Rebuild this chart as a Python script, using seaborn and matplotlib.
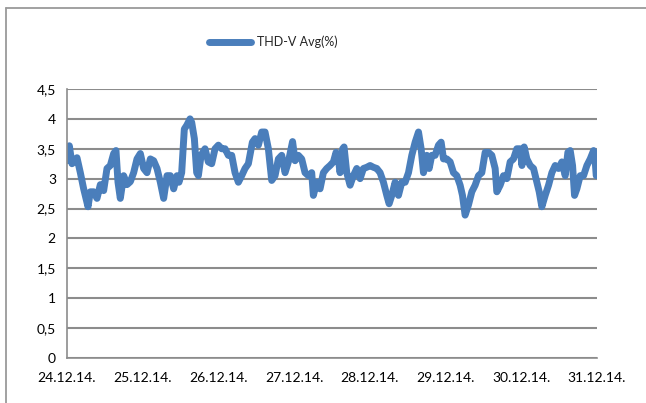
import numpy as np
import pandas as pd
import matplotlib
matplotlib.use("Agg")
import matplotlib.pyplot as plt
import matplotlib.dates as mdates
from matplotlib.lines import Line2D
from matplotlib.ticker import FuncFormatter
import seaborn as sns

# Hours elapsed since 24.12.2014 00:00
hours = [
    0.0, 0.74, 1.59, 2.64, 3.17, 4.23, 5.28, 6.66, 7.4, 8.45, 9.51, 10.57,
    11.62, 12.68, 13.74, 14.79, 15.53, 16.17, 16.9, 17.96, 19.02, 20.08,
    21.13, 22.19, 23.25, 24.3, 25.36, 26.42, 27.47, 28.53, 29.59, 30.64,
    31.7, 32.76, 33.81, 34.87, 35.5, 36.35, 37.19, 37.94, 39.0, 39.53,
    40.37, 41.11, 41.64, 42.5, 43.75, 44.8, 45.86, 46.92, 47.98, 49.03,
    50.09, 51.15, 52.21, 53.26, 54.32, 55.38, 56.43, 57.49, 58.76, 59.6,
    60.66, 61.72, 62.77, 63.83, 64.89, 65.95, 67.0, 68.06, 69.12, 70.17,
    71.5, 72.29, 73.33, 74.39, 75.45, 76.51, 77.56, 78.09, 79.15, 80.21,
    81.26, 82.32, 83.38, 84.44, 85.28, 86.02, 86.55, 87.39, 87.82, 88.67,
    89.73, 90.78, 91.84, 92.9, 93.96, 95.01, 96.07, 97.13, 98.19, 99.24,
    100.3, 101.36, 102.1, 102.95, 104.0, 105.06, 106.12, 107.18, 108.24,
    109.29, 110.35, 111.41, 112.25, 112.99, 114.05, 114.79, 115.62,
    116.68, 117.74, 118.59, 119.33, 120.38, 121.44, 122.5, 123.56, 124.61,
    125.35, 126.19, 127.25, 128.31, 129.36, 130.42, 131.48, 132.54,
    133.59, 134.65, 135.71, 136.24, 137.29, 138.35, 139.41, 140.47,
    141.52, 142.58, 143.64, 144.2, 144.9, 145.76, 146.82, 147.87, 148.93,
    149.67, 150.51, 151.57, 152.63, 153.69, 154.74, 155.8, 156.86, 157.92,
    158.76, 159.5, 160.24, 160.87, 161.61, 162.67, 163.73, 164.78, 165.84,
    166.9, 167.43, 167.75,
]

thd_v = [
    3.3, 3.55, 3.25, 3.3, 3.35, 3.1, 2.83, 2.53, 2.78, 2.78, 2.67, 2.9,
    2.8, 3.17, 3.22, 3.42, 3.47, 2.94, 2.67, 3.05, 2.9, 2.95,
    3.1, 3.33, 3.42, 3.17, 3.1, 3.33, 3.3, 3.17, 2.94, 2.67,
    3.05, 3.05, 2.83, 3.05, 2.94, 3.1, 3.83, 3.89, 4.0, 3.94,
    3.67, 3.1, 3.05, 3.39, 3.5, 3.28, 3.25, 3.5, 3.56, 3.5,
    3.5, 3.39, 3.39, 3.1, 2.94, 3.05, 3.17, 3.25, 3.61, 3.67,
    3.56, 3.78, 3.78, 3.5, 2.97, 3.05, 3.33, 3.39, 3.1, 3.28,
    3.62, 3.3, 3.39, 3.33, 3.1, 3.05, 3.1, 2.72, 2.94, 2.83,
    3.1, 3.17, 3.22, 3.28, 3.44, 3.33, 3.1, 3.5, 3.53, 3.1,
    2.89, 3.05, 3.17, 3.0, 3.17, 3.19, 3.22, 3.19, 3.17, 3.1,
    2.94, 2.72, 2.58, 2.72, 2.94, 2.72, 2.94, 2.94, 3.1,
    3.39, 3.61, 3.78, 3.5, 3.1, 3.39, 3.17, 3.39,
    3.39, 3.56, 3.61, 3.33, 3.33, 3.28, 3.1, 3.05, 2.89,
    2.72, 2.39, 2.56, 2.78, 2.89, 3.05, 3.1, 3.44,
    3.44, 3.39, 3.17, 2.78, 2.89, 3.05, 3.0, 3.28,
    3.33, 3.5, 3.5, 3.22, 3.53, 3.33, 3.22, 3.17, 2.94,
    2.78, 2.53, 2.72, 2.89, 3.1, 3.22, 3.17, 3.28, 3.05,
    3.44, 3.47, 3.22, 2.72, 2.83, 3.05, 3.05, 3.22, 3.33,
    3.47, 3.28, 3.05,
]

series_name = "THD-V Avg(%)"
start = pd.Timestamp("2014-12-24")
end = pd.Timestamp("2014-12-31")
y_ticks = [0, 0.5, 1, 1.5, 2, 2.5, 3, 3.5, 4, 4.5]

df = pd.DataFrame({
    "time": start + pd.to_timedelta(hours, unit="h"),
    "value": thd_v,
    "series": series_name,
})

sns.set_style("white")
plt.rcParams["font.family"] = ["Lato", "DejaVu Sans"]

fig = plt.figure(figsize=(6.46, 4.03), dpi=100)
ax = fig.add_axes([0.1037, 0.1117, 0.8205, 0.6675])

grid_color = "#8c8c8c"
line_color = "#4a7ebb"

sns.lineplot(data=df, x="time", y="value", hue="series",
             palette=[line_color], linewidth=5, ax=ax,
             solid_joinstyle="round", solid_capstyle="round")

ax.set_xlim(start, end)
ax.set_ylim(0, 4.5)
ax.set_yticks(y_ticks)
ax.yaxis.set_major_formatter(
    FuncFormatter(lambda v, _: f"{v:g}".replace(".", ",")))
ax.xaxis.set_major_locator(mdates.DayLocator())
ax.xaxis.set_major_formatter(mdates.DateFormatter("%d.%m.%y."))

ax.set_xlabel("")
ax.set_ylabel("")
ax.grid(axis="y", color=grid_color, linewidth=1.5)
ax.set_axisbelow(True)
for side in ("top", "right"):
    ax.spines[side].set_visible(False)
for side in ("left", "bottom"):
    ax.spines[side].set_color(grid_color)
    ax.spines[side].set_linewidth(1.2)
ax.tick_params(axis="both", which="major", direction="out", length=5,
               width=1.2, color=grid_color, labelsize=10,
               labelcolor="black", pad=3)
ax.tick_params(axis="x", pad=5)

ax.legend_.remove()
handle = Line2D([0], [0], color=line_color, linewidth=5,
                solid_capstyle="round")
fig.legend([handle], [series_name], loc="center",
           bbox_to_anchor=(0.423, 0.896), frameon=False, fontsize=9,
           handlelength=3.4, handletextpad=0.45)

# Outer chart frame (top and left edges)
fig.add_artist(Line2D([0.0093, 0.0093], [0.0, 0.980],
                      transform=fig.transFigure, color="#9a9a9a", lw=1.3))
fig.add_artist(Line2D([0.0093, 1.0], [0.980, 0.980],
                      transform=fig.transFigure, color="#9a9a9a", lw=1.3))

fig.savefig("out.png", dpi=100, facecolor="white")
